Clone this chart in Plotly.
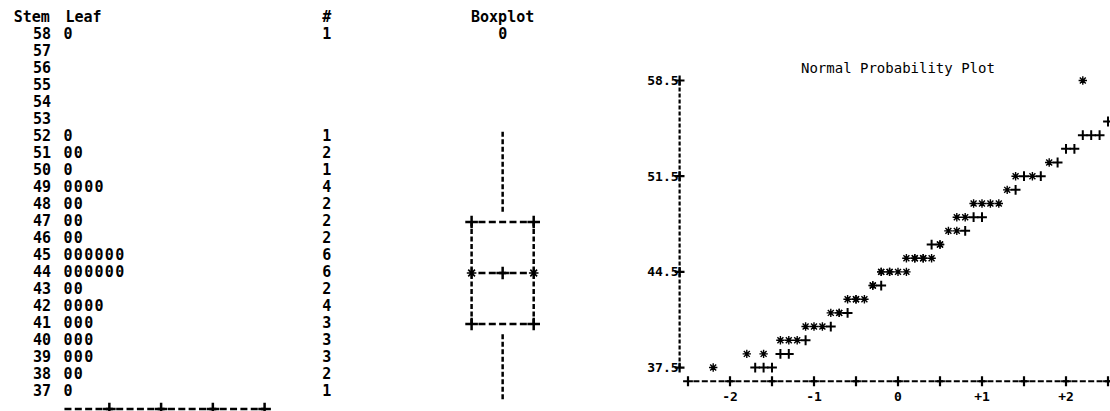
import numpy as np
import plotly.graph_objects as go
from statistics import NormalDist

# ---- data: stem-and-leaf as printed (stem = units, leaf = tenths) ----
stems = [58, 57, 56, 55, 54, 53, 52, 51, 50, 49, 48, 47, 46, 45, 44, 43, 42, 41, 40, 39, 38, 37]
leaves = ["0", "", "", "", "", "", "0", "00", "0", "0000", "00", "00", "00", "000000",
          "000000", "00", "0000", "000", "000", "000", "00", "0"]
counts = [1, 0, 0, 0, 0, 0, 1, 2, 1, 4, 2, 2, 2, 6, 6, 2, 4, 3, 3, 3, 2, 1]
leaf_scale = [5, 10, 15, 20]

# normal probability plot axes
y_ticks = [37.5, 44.5, 51.5, 58.5]
y_ticktext = ["37.5", "44.5", "51.5", "58.5"]
x_ticks = [-2, -1, 0, 1, 2]
x_ticktext = ["-2", "-1", "0", "+1", "+2"]
x_minor = [-2.5, -2, -1.5, -1, -0.5, 0, 0.5, 1, 1.5, 2, 2.5]

# observations rebuilt from the stem-and-leaf
values = np.array(sorted(s + int(d) / 10 for s, lf in zip(stems, leaves) for d in lf))
n = len(values)
mean, sd = values.mean(), values.std(ddof=1)

FONT = "DejaVu Sans Mono"
INK = "#000000"
W, H = 1110, 411

# left block (character grid): column width / row height in px
L_CW, L_X0, L_W = 10.35, 16.2, 600
L_RH, L_Y0 = 17.0, 35.0
top = max(stems)
# right block
R_UNIT, R_Z0 = 84.0, 898.0
R_RH, R_Y0 = 13.67, 80.5
r_left = -2.6
pad_x, pad_y = 0.06, 0.4   # keeps the dashed axes inside the clip area

fig = go.Figure()


def text_trace(x, y, text, size=15, bold=True, pos="middle center", axes=("x", "y")):
    return go.Scatter(x=x, y=y, text=text, mode="text", textposition=pos,
                      textfont=dict(family=FONT, size=size, color=INK,
                                    weight="bold" if bold else "normal"),
                      xaxis=axes[0], yaxis=axes[1], hoverinfo="skip", cliponaxis=False)


def line_trace(x, y, dash, width=2.5, axes=("x", "y")):
    return go.Scatter(x=x, y=y, mode="lines", line=dict(color=INK, width=width, dash=dash),
                      xaxis=axes[0], yaxis=axes[1], hoverinfo="skip", cliponaxis=False)


def mark_trace(x, y, symbol, size, width, axes=("x", "y")):
    return go.Scatter(x=x, y=y, mode="markers",
                      marker=dict(symbol=symbol, size=size, color=INK,
                                  line=dict(color=INK, width=width)),
                      xaxis=axes[0], yaxis=axes[1], hoverinfo="skip", cliponaxis=False)


# ---- stem and leaf ----
fig.add_trace(text_trace([2.5] * len(stems), stems, [str(s) for s in stems]))
lx, ly, lt = [], [], []
for s, lf in zip(stems, leaves):
    for j, d in enumerate(lf):
        lx.append(5 + j)
        ly.append(s)
        lt.append(d)
fig.add_trace(text_trace(lx, ly, lt))
fig.add_trace(text_trace([30] * len(stems), stems, [str(c) if c else "" for c in counts]))
fig.add_trace(text_trace([1.5, 6.5, 30, 47], [top + 1] * 4, ["Stem", "Leaf", "#", "Boxplot"]))

# leaf scale line under the leaves
gap = 3.35 / L_CW
fig.add_trace(line_trace([4.5 + gap / 2, 4 + leaf_scale[-1]], [min(stems) - 1] * 2, "7px,3.35px"))
fig.add_trace(mark_trace([4 + k for k in leaf_scale], [min(stems) - 1] * len(leaf_scale),
                         "cross-thin-open", 9, 2.5))

# ---- boxplot (drawn on the stem rows) ----
q1, med, q3 = np.percentile(values, [25, 50, 75], method="averaged_inverted_cdf")
iqr = q3 - q1
hi = values[values <= q3 + 1.5 * iqr].max()
lo = values[values >= q1 - 1.5 * iqr].min()
outs = values[(values > q3 + 1.5 * iqr) | (values < q1 - 1.5 * iqr)]
bc, bw = 47, 3
r_q1, r_med, r_q3 = np.floor(q1), np.floor(med), np.floor(q3)
r_mean = np.floor(mean)

fig.add_trace(line_trace([bc, bc], [r_q3 + 0.6, np.floor(hi) + 0.45], "5px,2.5px"))
fig.add_trace(line_trace([bc, bc], [r_q1 - 0.6, np.floor(lo) - 0.45], "5px,2.5px"))
for cx in (bc - bw, bc + bw):
    fig.add_trace(line_trace([cx, cx], [r_q1, r_q3], "5px,2.5px"))
for ry in (r_q1, r_med, r_q3):
    fig.add_trace(line_trace([bc - bw + 0.5 + gap / 2, bc + bw - 0.5 - gap / 2], [ry, ry],
                             "7px,3.35px"))
fig.add_trace(mark_trace([bc - bw, bc + bw, bc - bw, bc + bw], [r_q1, r_q1, r_q3, r_q3],
                         "cross-thin-open", 9, 2.5))
fig.add_trace(mark_trace([bc - bw, bc + bw], [r_med, r_med], "asterisk-open", 8, 1.6))
fig.add_trace(mark_trace([bc], [r_mean], "cross-thin-open", 9, 2.5))
fig.add_trace(text_trace([bc] * len(outs), np.floor(outs), ["0"] * len(outs)))

# ---- normal probability plot ----
R = ("x2", "y2")
nd = NormalDist()
z = np.array([nd.inv_cdf((i + 1 - 0.375) / (n + 0.25)) for i in range(n)])
star_x = np.round(z, 1)
star_y = np.floor(values) + 0.5
row_lo, row_hi = star_y.min(), star_y.max()

cols = np.round(np.arange(-25, 26) / 10, 1)
ref_y = np.floor(mean + sd * cols) + 0.5
taken = set(zip(star_x.tolist(), star_y.tolist()))
keep = [(c, r) for c, r in zip(cols.tolist(), ref_y.tolist())
        if row_lo <= r <= row_hi and (c, r) not in taken]

# axes drawn as dashed character lines
fig.add_trace(line_trace([r_left, r_left], [row_lo, row_hi], "4px,2px", width=2.2, axes=R))
fig.add_trace(mark_trace([r_left] * len(y_ticks), y_ticks, "cross-thin-open", 7, 2.2, axes=R))
g2 = 2.4 / (R_UNIT / 10)
fig.add_trace(line_trace([x_minor[0] + 0.05 + g2 / 20, x_minor[-1] + 0.1], [row_lo - 1] * 2,
                         "6px,2.4px", width=2.2, axes=R))
fig.add_trace(mark_trace(x_minor, [row_lo - 1] * len(x_minor), "cross-thin-open", 7, 2.2, axes=R))

fig.add_trace(mark_trace([k[0] for k in keep], [k[1] for k in keep], "cross-thin-open", 7, 2, axes=R))
fig.add_trace(mark_trace(star_x, star_y, "asterisk-open", 7, 1.4, axes=R))

fig.add_annotation(text="Normal Probability Plot", xref="x2", x=0, yref="paper", y=1 - 68 / H,
                   xanchor="center", yanchor="middle", showarrow=False,
                   font=dict(family=FONT, size=14, color=INK))

x2_lo = r_left - pad_x
y2_lo = row_lo - 1 - pad_y
fig.update_layout(
    width=W, height=H,
    margin=dict(l=0, r=0, t=0, b=0),
    paper_bgcolor="white", plot_bgcolor="white",
    showlegend=False,
    xaxis=dict(domain=[0, L_W / W], range=[-L_X0 / L_CW, (L_W - L_X0) / L_CW], visible=False),
    yaxis=dict(domain=[0, 1], range=[top - (H - L_Y0) / L_RH, top + L_Y0 / L_RH], visible=False),
    xaxis2=dict(domain=[(R_Z0 + x2_lo * R_UNIT) / W, 1], anchor="y2",
                range=[x2_lo, (W - R_Z0) / R_UNIT],
                tickvals=x_ticks, ticktext=x_ticktext, ticks="", showgrid=False,
                zeroline=False, showline=False,
                tickfont=dict(family=FONT, size=13, color=INK, weight="bold")),
    yaxis2=dict(domain=[(H - (R_Y0 + (row_hi - y2_lo) * R_RH)) / H, 1], anchor="x2",
                range=[y2_lo, row_hi + R_Y0 / R_RH],
                tickvals=y_ticks, ticktext=y_ticktext, ticks="", showgrid=False,
                zeroline=False, showline=False, ticklabelstandoff=-5,
                tickfont=dict(family=FONT, size=13, color=INK, weight="bold")),
)

# the page's default body margin would shift the figure by 8px
fig.write_html("out.html", config={"displayModeBar": False},
               post_script="document.body.style.margin='0px';")
